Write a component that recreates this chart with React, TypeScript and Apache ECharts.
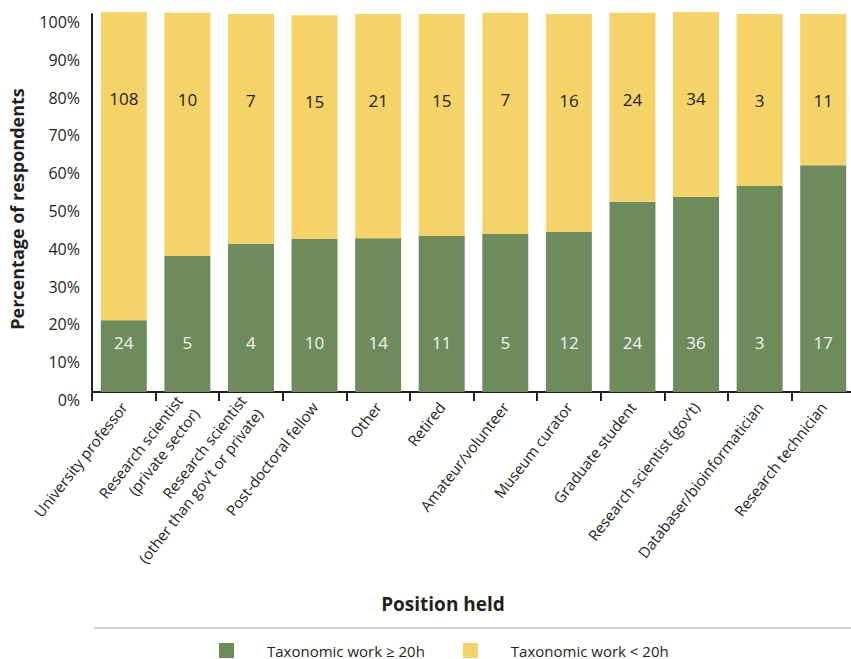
import React, { useEffect, useRef } from "react";
import * as echarts from "echarts";

const categories = [
  "University professor",
  "Research scientist\n(private sector)",
  "Research scientist\n(other than gov’t or private)",
  "Post-doctoral fellow",
  "Other",
  "Retired",
  "Amateur/volunteer",
  "Museum curator",
  "Graduate student",
  "Research scientist (gov’t)",
  "Databaser/bioinformatician",
  "Research technician",
];

// Heights, in percent of respondents
const greenPct = [19.0, 36.0, 39.2, 40.5, 40.7, 41.3, 41.8, 42.3, 50.3, 51.6, 54.5, 60.0];
const yellowPct = [81.5, 64.3, 60.8, 59.2, 59.3, 58.7, 58.5, 57.7, 50.0, 48.9, 45.5, 40.0];

// Respondent counts printed on the bars
const greenCount = [24, 5, 4, 10, 14, 11, 5, 12, 24, 36, 3, 17];
const yellowCount = [108, 10, 7, 15, 21, 15, 7, 16, 24, 34, 3, 11];

const seriesNames = ["Taxonomic work ≥ 20h", "Taxonomic work < 20h"];

const FONT = "'Open Sans', 'Noto Sans', sans-serif";
const TEXT = "#231f20";
const GREEN = "#6e8b5b";
const YELLOW = "#f5d368";

export default function App() {
  const ref = useRef<HTMLDivElement>(null);

  useEffect(() => {
    if (!ref.current) return;
    const chart = echarts.init(ref.current, null, { renderer: "svg" });
    chart.setOption({
      animation: false,
      textStyle: { fontFamily: FONT },
      grid: {
        left: 92,
        top: 14,
        height: 378,
        width: 763,
        containLabel: false,
        outerBoundsMode: "none",
      },
      legend: {
        left: 214,
        top: 638,
        itemWidth: 15,
        itemHeight: 15,
        itemGap: 38,
        icon: "rect",
        selectedMode: false,
        textStyle: {
          fontFamily: FONT,
          fontSize: 15,
          color: TEXT,
          padding: [0, 0, 0, 28],
        },
        data: seriesNames,
      },
      xAxis: {
        type: "category",
        data: categories,
        axisLine: { show: true, lineStyle: { color: TEXT, width: 2 } },
        axisTick: { show: true, alignWithLabel: false, length: 9, lineStyle: { color: TEXT, width: 2 } },
        axisLabel: {
          interval: 0,
          rotate: 52,
          margin: 12,
          fontFamily: FONT,
          fontSize: 15,
          lineHeight: 21,
          color: TEXT,
        },
      },
      yAxis: {
        type: "value",
        min: 0,
        max: 100,
        interval: 10,
        axisLine: { show: true, lineStyle: { color: TEXT, width: 2 } },
        axisTick: { show: false },
        splitLine: { show: false },
        axisLabel: {
          formatter: "{value}%",
          verticalAlign: "top",
          margin: 12,
          fontFamily: FONT,
          fontSize: 16,
          color: TEXT,
        },
      },
      series: [
        {
          name: seriesNames[0],
          type: "bar",
          stack: "total",
          barWidth: 46,
          clip: false,
          itemStyle: { color: GREEN },
          data: greenPct,
          label: {
            show: true,
            position: "insideBottom",
            distance: 41,
            fontFamily: FONT,
            fontSize: 17,
            color: "#f4f4f0",
            formatter: (p: any) => String(greenCount[p.dataIndex]),
          },
        },
        {
          name: seriesNames[1],
          type: "bar",
          stack: "total",
          barWidth: 46,
          clip: false,
          itemStyle: { color: YELLOW },
          data: yellowPct,
          label: {
            show: true,
            position: "insideTop",
            distance: 78,
            fontFamily: FONT,
            fontSize: 17,
            color: TEXT,
            formatter: (p: any) => String(yellowCount[p.dataIndex]),
          },
        },
      ],
      graphic: [
        {
          type: "text",
          x: 17,
          y: 209,
          rotation: Math.PI / 2,
          style: {
            text: "Percentage of respondents",
            fontFamily: FONT,
            fontSize: 18,
            fontWeight: "bold",
            fill: TEXT,
            align: "center",
            verticalAlign: "middle",
          },
        },
        {
          type: "text",
          x: 443,
          y: 604,
          style: {
            text: "Position held",
            fontFamily: FONT,
            fontSize: 19,
            fontWeight: "bold",
            fill: TEXT,
            align: "center",
            verticalAlign: "middle",
          },
        },
        {
          type: "line",
          shape: { x1: 94, y1: 628, x2: 851, y2: 628 },
          style: { stroke: "#c4c4c4", lineWidth: 1.5 },
        },
      ],
    });
    return () => chart.dispose();
  }, []);

  return (
    <div
      ref={ref}
      style={{ position: "absolute", left: 0, top: 0, width: 851, height: 659 }}
    />
  );
}
